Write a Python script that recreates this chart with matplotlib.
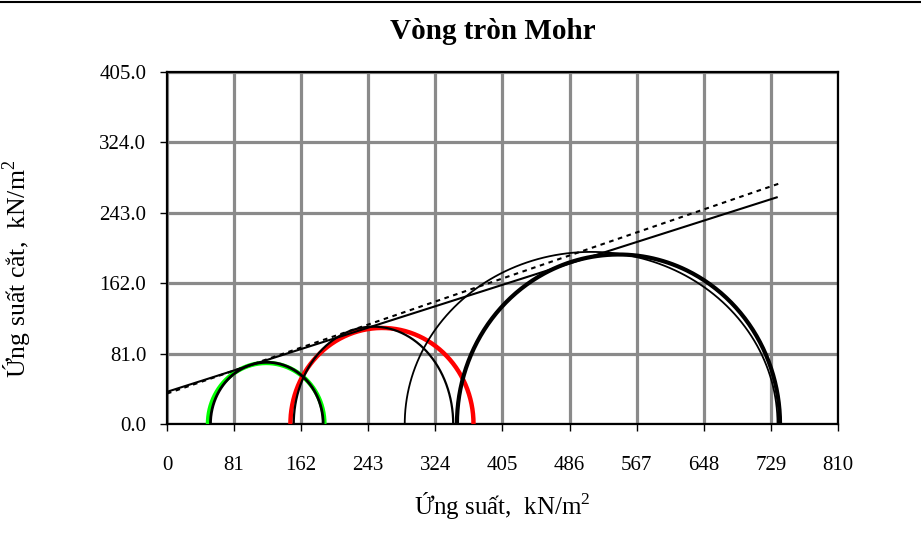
import numpy as np
import matplotlib.pyplot as plt
from matplotlib.lines import Line2D

plt.rcParams['font.family'] = ['Liberation Serif', 'DejaVu Serif']
plt.rcParams['mathtext.fontset'] = 'custom'
plt.rcParams['mathtext.rm'] = 'Liberation Serif'

# Mohr circles (sigma3, sigma1) - coloured, true circles
circle_s3 = [49.5, 149.0]
circle_s1 = [190.0, 370.0]
circle_colors = ['#00ff00', '#ff0000']

# black curves: sigma range and peak shear (drawn as half-ellipses)
curve_s3 = [52.5, 153.0, 287.0, 350.0]
curve_s1 = [188.5, 345.5, 737.0, 740.0]
curve_tau = [71.0, 112.0, 198.0, 195.0]
curve_widths = [2.0, 1.6, 1.3, 3.0]

# failure envelopes: cohesion, tan(phi), sigma end
env_c = [37.0, 35.0]
env_tan = [0.304, 0.327]
env_end = [736.0, 740.0]
env_styles = ['-', (0, (2.2, 2.2))]

xticks = np.arange(0, 811, 81)
yticks = np.arange(0, 406, 81)

fig = plt.figure(figsize=(9.21, 5.34), dpi=100)
ax = fig.add_axes([0.1813, 0.206, 0.7286, 0.6592])

theta = np.linspace(0, np.pi, 300)
for s3, s1, col in zip(circle_s3, circle_s1, circle_colors):
    c = (s1 + s3) / 2
    r = (s1 - s3) / 2
    ax.plot(c + r * np.cos(theta), r * np.sin(theta), color=col, lw=3.2,
            solid_capstyle='butt', zorder=3)

for s3, s1, t, lw in zip(curve_s3, curve_s1, curve_tau, curve_widths):
    c = (s1 + s3) / 2
    a = (s1 - s3) / 2
    ax.plot(c + a * np.cos(theta), t * np.sin(theta), color='black', lw=lw,
            solid_capstyle='butt', zorder=4)

for c, k, end, ls in zip(env_c, env_tan, env_end, env_styles):
    xs = np.array([0, end])
    ax.plot(xs, c + k * xs, color='black', lw=1.5, linestyle=ls, zorder=5)

ax.set_xticks(xticks)
ax.set_yticks(yticks)
ax.set_xticklabels([str(t) for t in xticks])
ax.set_yticklabels(['%.1f' % t for t in yticks])
ax.set_xlim(0, 810)
ax.set_ylim(0, 405)
ax.tick_params(labelsize=15, length=5, width=1, direction='out')
ax.tick_params(axis='x', pad=18)
ax.tick_params(axis='y', pad=10)
ax.grid(True, color='#8a8a8a', lw=2.3, zorder=0)
ax.set_axisbelow(True)
for sp in ax.spines.values():
    sp.set_linewidth(1.6)
    sp.set_color('black')

ax.set_title('Vòng tròn Mohr', fontsize=21, fontweight='bold', pad=24, x=0.485)
ax.set_xlabel('Ứng suất,  kN/m$^2$', fontsize=18)
ax.xaxis.set_label_coords(0.5, -0.188)
ax.set_ylabel('Ứng suất cắt,  kN/m$^2$', fontsize=18.5)
ax.yaxis.set_label_coords(-0.198, 0.44)

fig.add_artist(Line2D([0, 1], [0.9955, 0.9955], color='black', lw=1.5,
                      transform=fig.transFigure))

fig.savefig('out.png', dpi=100)
